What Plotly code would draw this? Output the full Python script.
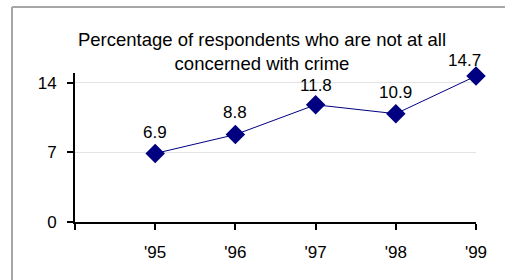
import plotly.graph_objects as go

years = ["'95", "'96", "'97", "'98", "'99"]
values = [6.9, 8.8, 11.8, 10.9, 14.7]
labels = ["6.9", "8.8", "11.8", "10.9", "14.7"]
y_ticks = [0, 7, 14]
title_text = "Percentage of respondents who are not at all<br>concerned with crime"

x_pos = list(range(1, len(years) + 1))

# label offsets (pixels) to mimic the reference placement
label_dx = [0, 0, 0, 0, -12]
label_dy = [21, 22, 19, 21, 15]

font_family = "Arial, Liberation Sans, sans-serif"

fig = go.Figure()
fig.add_trace(go.Scatter(
    x=x_pos, y=values, mode="lines+markers",
    line=dict(color="#000080", width=1),
    marker=dict(symbol="diamond", size=15, color="#000080"),
    cliponaxis=False, showlegend=False, hoverinfo="skip",
))

annotations = []
for xv, yv, txt, dx, dy in zip(x_pos, values, labels, label_dx, label_dy):
    annotations.append(dict(x=xv, y=yv, xref="x", yref="y", text=txt,
                            showarrow=False, xanchor="center", yanchor="middle",
                            xshift=dx, yshift=dy,
                            font=dict(family=font_family, size=17, color="black")))

shape_line = dict(color="#a6a6a6", width=2)
fig.update_layout(
    width=505, height=280,
    margin=dict(l=75, r=29, t=73, b=58),
    paper_bgcolor="white", plot_bgcolor="white",
    font=dict(family=font_family, size=17, color="black"),
    title=dict(text=title_text, x=262/505, xanchor="center", xref="container",
               y=1 - 46/280, yanchor="middle", yref="container",
               font=dict(family=font_family, size=18.5, color="black")),
    xaxis=dict(range=[0, 5], tickvals=[0] + x_pos, ticktext=[""] + years,
               showgrid=False, zeroline=False, showline=True, linecolor="black",
               linewidth=2, ticks="outside", ticklen=6, tickwidth=2, tickcolor="black",
               ticklabelstandoff=8),
    yaxis=dict(range=[0, 15], tickvals=y_ticks, showgrid=True, gridcolor="#e3e3e3",
               gridwidth=1, zeroline=False, showline=True, linecolor="black",
               linewidth=2, ticks="outside", ticklen=6, tickwidth=2, tickcolor="black",
               ticklabelstandoff=7),
    annotations=annotations,
    shapes=[
        dict(type="line", xref="paper", yref="paper",
             x0=(12 - 75) / 401, x1=(505 - 75) / 401,
             y0=(222 - 7) / 149, y1=(222 - 7) / 149, line=shape_line, layer="above"),
        dict(type="line", xref="paper", yref="paper",
             x0=(12 - 75) / 401, x1=(12 - 75) / 401,
             y0=(222 - 7) / 149, y1=(222 - 280) / 149, line=shape_line, layer="above"),
    ],
)

fig.write_html("out.html", config={"displayModeBar": False},
               post_script="document.body.style.margin='0';")
